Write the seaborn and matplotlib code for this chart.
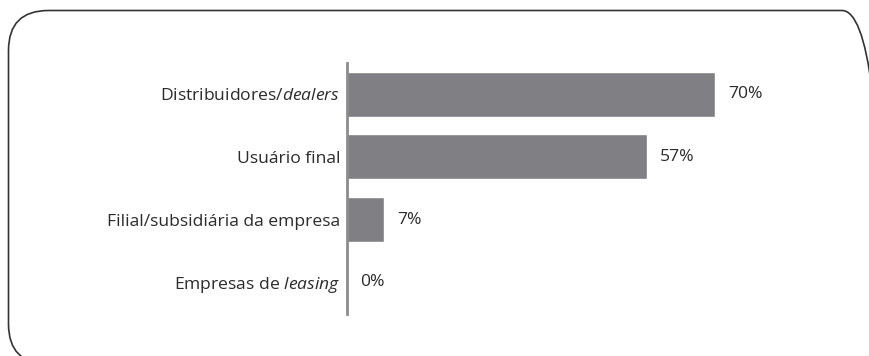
import matplotlib
matplotlib.use("Agg")
import matplotlib.pyplot as plt
from matplotlib.patches import FancyBboxPatch
from matplotlib.transforms import IdentityTransform
import seaborn as sns
import pandas as pd

categories = [
    "Distribuidores/$\\mathit{dealers}$",
    "Usuário final",
    "Filial/subsidiária da empresa",
    "Empresas de $\\mathit{leasing}$",
]
values = [70, 57, 7, 0]
value_labels = ["70%", "57%", "7%", "0%"]

sns.set_theme(style="white")
plt.rcParams["font.family"] = ["Open Sans", "DejaVu Sans"]
plt.rcParams["mathtext.fontset"] = "custom"
plt.rcParams["mathtext.rm"] = "Open Sans"
plt.rcParams["mathtext.it"] = "Open Sans:italic"

text_color = "#2b2b2b"
bar_color = "#808084"
font_size = 12.6

df = pd.DataFrame({"categoria": categories, "valor": values})

fig = plt.figure(figsize=(8.7, 3.56), dpi=100)
W, H = 870, 356
ax = fig.add_axes([347 / W, 1 - 313.5 / H, (800 - 347) / W, (313.5 - 63) / H])

sns.barplot(data=df, y="categoria", x="valor", color=bar_color, width=0.72,
            saturation=1, ax=ax, orient="h")

for i, (v, lab) in enumerate(zip(values, value_labels)):
    ax.annotate(lab, xy=(v, i), xytext=(9.5, 0), textcoords="offset points",
                ha="left", va="center", fontsize=font_size, color=text_color)

ax.set_xlim(0, (800 - 347) / 5.26)
ax.set_ylim(3.5, -0.5)
ax.set_xlabel("")
ax.set_ylabel("")
ax.set_xticks([])
for s in ["top", "right", "bottom"]:
    ax.spines[s].set_visible(False)
ax.spines["left"].set_color("#8c8c8c")
ax.spines["left"].set_linewidth(2)
ax.tick_params(axis="y", length=0, pad=5, labelsize=font_size,
               labelcolor=text_color)

# rounded frame around the chart, in pixel coordinates
left, top, right, bottom = 8.5, 10.5, 882, 364
frame = FancyBboxPatch((left, H - bottom), right - left, bottom - top,
                       boxstyle="round,pad=0,rounding_size=40",
                       transform=IdentityTransform(), fill=False,
                       edgecolor="#333333", linewidth=1.2)
fig.patches.append(frame)

fig.savefig("out.png", dpi=100)
